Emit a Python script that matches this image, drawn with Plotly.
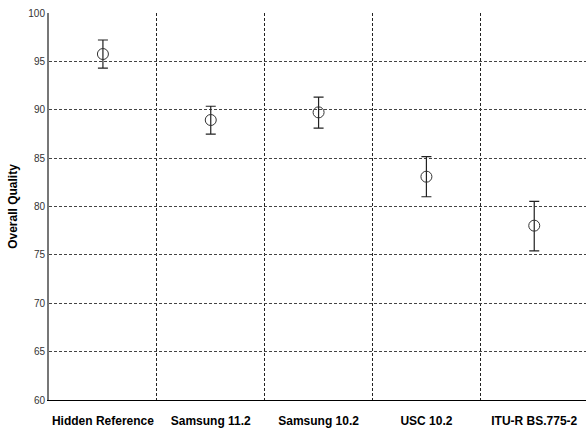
import plotly.graph_objects as go

# Listening-test results: mean overall quality with confidence intervals
systems = ["Hidden Reference", "Samsung 11.2", "Samsung 10.2", "USC 10.2", "ITU-R BS.775-2"]
mean_quality = [95.76, 88.94, 89.73, 83.08, 78.02]
ci_upper = [1.45, 1.42, 1.58, 2.07, 2.5]
ci_lower = [1.45, 1.45, 1.62, 2.07, 2.6]
y_ticks = [60, 65, 70, 75, 80, 85, 90, 95, 100]

x_pos = list(range(len(systems)))
boundaries = [i + 0.5 for i in range(len(systems) - 1)]

fig = go.Figure()
fig.add_trace(go.Scatter(
    x=x_pos,
    y=mean_quality,
    mode="markers",
    marker=dict(symbol="circle-open", size=11, color="#333333", line=dict(width=1)),
    error_y=dict(type="data", symmetric=False, array=ci_upper, arrayminus=ci_lower,
                 color="#222222", thickness=1.2, width=5),
    showlegend=False,
))

fig.update_layout(
    width=587,
    height=430,
    margin=dict(l=49, r=1, t=13, b=30),
    paper_bgcolor="white",
    plot_bgcolor="white",
    font=dict(family="Arial, Liberation Sans, sans-serif", color="#222222"),
)

fig.update_xaxes(
    range=[-0.5, 4.48],
    tickvals=x_pos,
    ticktext=systems,
    tickfont=dict(size=12, color="black", family="Liberation Sans, Arial, sans-serif", weight="bold"),
    showgrid=False,
    showline=True,
    linecolor="black",
    linewidth=1,
    ticks="outside",
    ticklen=10,
    tickcolor="rgba(0,0,0,0)",
    zeroline=False,
    minor=dict(tickvals=boundaries, showgrid=True, gridcolor="#222222",
               griddash="3px,2px", gridwidth=1, ticks=""),
)

fig.update_yaxes(
    range=[60, 100],
    tickvals=y_ticks,
    tickfont=dict(size=10, color="#333333"),
    showgrid=True,
    gridcolor="#444444",
    griddash="3px,2px",
    gridwidth=1,
    showline=True,
    linecolor="#777777",
    linewidth=2,
    ticks="",
    zeroline=False,
    title=dict(text="<b>Overall Quality</b>", font=dict(size=12, color="black"), standoff=8),
)

fig.write_html("out.html")
